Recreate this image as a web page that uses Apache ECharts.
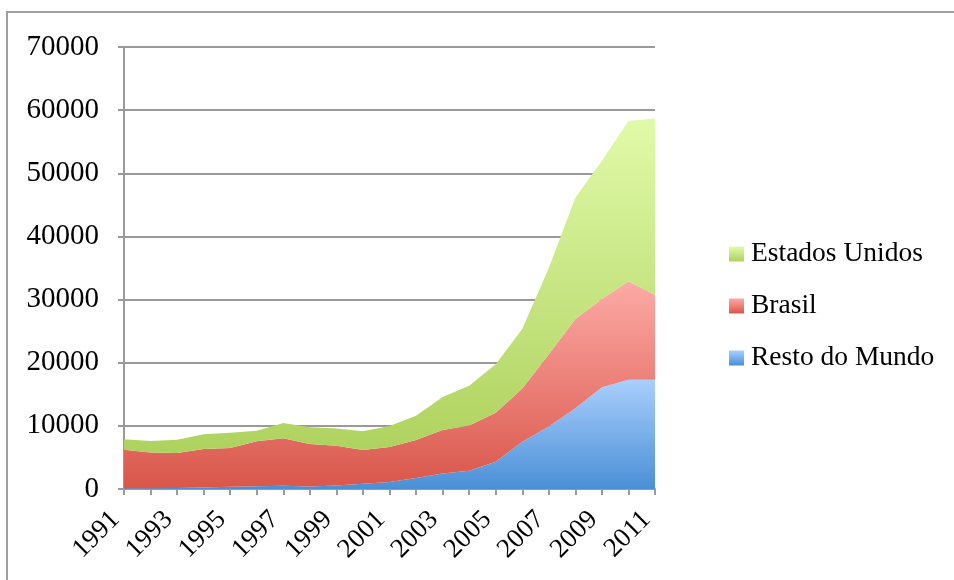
<!DOCTYPE html>
<html>
<head>
<meta charset="utf-8">
<script src="https://cdn.jsdelivr.net/npm/echarts@6/dist/echarts.min.js"></script>
<style>
  html, body { margin: 0; padding: 0; background: #ffffff; }
  #chart { width: 954px; height: 580px; }
</style>
</head>
<body>
<div id="chart"></div>
<script>
// Anos da série
const anos = ['1991','1992','1993','1994','1995','1996','1997','1998','1999','2000',
              '2001','2002','2003','2004','2005','2006','2007','2008','2009','2010','2011'];

// Valores por região (empilhados)
const restoDoMundo = [100, 100, 150, 250, 350, 450, 500, 400, 550, 850,
                      1100, 1750, 2450, 2900, 4300, 7500, 9900, 12800, 16100, 17300, 17300];
const brasil = [6130, 5700, 5550, 6090, 6150, 7110, 7530, 6710, 6300, 5310,
                5540, 6000, 6880, 7150, 7780, 8410, 11430, 14120, 14010, 15620, 13440];
const estadosUnidos = [1640, 1800, 2100, 2330, 2420, 1680, 2430, 2650, 2750, 2970,
                       3330, 3870, 5240, 6300, 7660, 9410, 13670, 19210, 21890, 25380, 27930];

const rotulosY = [0, 10000, 20000, 30000, 40000, 50000, 60000, 70000];

const fonte = '"Liberation Serif", "DejaVu Serif", serif';

function gradiente(topo, base) {
  return new echarts.graphic.LinearGradient(0, 0, 0, 1, [
    { offset: 0, color: topo },
    { offset: 1, color: base }
  ]);
}

function serie(nome, dados, topo, base) {
  return {
    name: nome,
    type: 'line',
    stack: 'total',
    data: dados,
    symbol: 'none',
    lineStyle: { width: 0 },
    areaStyle: { color: gradiente(topo, base), opacity: 1 },
    itemStyle: { color: gradiente(topo, base) },
    emphasis: { disabled: true }
  };
}

const chart = echarts.init(document.getElementById('chart'));
chart.setOption({
  animation: false,
  backgroundColor: '#ffffff',
  graphic: [{
    type: 'rect',
    shape: { x: 7, y: 12, width: 1200, height: 1200 },
    style: { fill: 'none', stroke: '#a0a0a0', lineWidth: 2 },
    silent: true
  }],
  grid: { left: 124, right: 299, top: 47, bottom: 91 },
  legend: {
    orient: 'vertical',
    left: 724,
    top: 235,
    icon: 'rect',
    itemWidth: 15,
    itemHeight: 15,
    itemGap: 24,
    data: ['Estados Unidos', 'Brasil', 'Resto do Mundo'],
    textStyle: { fontFamily: fonte, fontSize: 27.5, color: '#000000', padding: [0, 0, 0, 2] }
  },
  xAxis: {
    type: 'category',
    data: anos,
    boundaryGap: false,
    axisLine: { lineStyle: { color: '#9a9a9a', width: 2 } },
    axisTick: { show: true, length: 6, interval: 0, lineStyle: { color: '#9a9a9a', width: 2 } },
    axisLabel: {
      interval: 1,
      rotate: 45,
      margin: 18,
      padding: [0, 12, 0, 0],
      fontFamily: fonte,
      fontSize: 27,
      color: '#000000'
    }
  },
  yAxis: {
    type: 'value',
    min: 0,
    max: 70000,
    interval: 10000,
    axisLine: { show: true, lineStyle: { color: '#9a9a9a', width: 2 } },
    axisTick: { show: true, length: 6, lineStyle: { color: '#9a9a9a', width: 2 } },
    splitLine: { lineStyle: { color: '#9a9a9a', width: 2 } },
    axisLabel: {
      margin: 25,
      fontFamily: fonte,
      fontSize: 29,
      color: '#000000',
      formatter: function (v) { return rotulosY.indexOf(v) >= 0 ? String(v) : ''; }
    }
  },
  series: [
    serie('Resto do Mundo', restoDoMundo, '#a9cffd', '#4a8fd6'),
    serie('Brasil', brasil, '#fdaaa6', '#d9564a'),
    serie('Estados Unidos', estadosUnidos, '#e1faa9', '#aed25e')
  ]
});
</script>
</body>
</html>
